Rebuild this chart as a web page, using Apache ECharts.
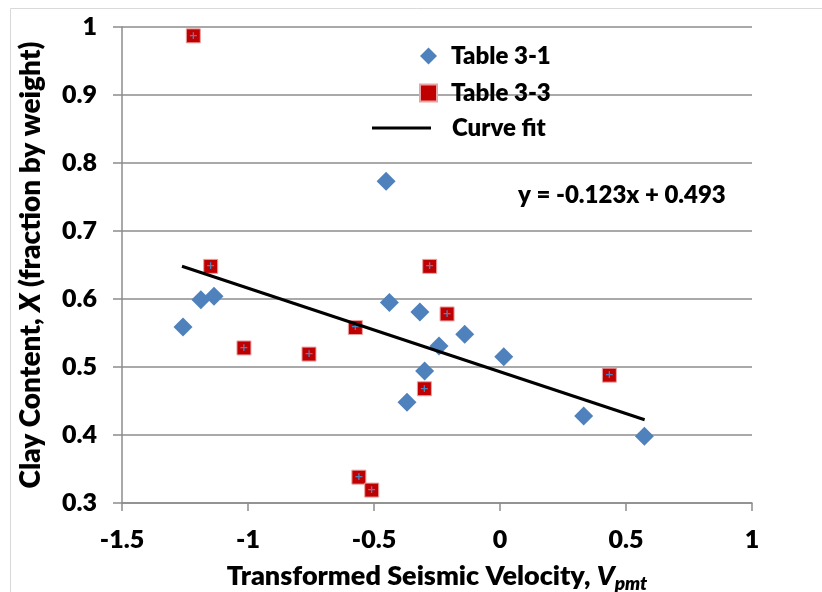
<!DOCTYPE html>
<html>
<head>
<meta charset="utf-8">
<script src="https://cdn.jsdelivr.net/npm/echarts@6/dist/echarts.min.js"></script>
<style>
  html, body { margin: 0; padding: 0; background: #ffffff; }
  #chart { width: 822px; height: 592px; }
</style>
</head>
<body>
<div id="chart"></div>
<script>
// Table 3-1 samples: transformed seismic velocity vs clay content
const table31Velocity = [-1.258, -1.187, -1.135, -0.452, -0.439, -0.318, -0.242, -0.140, 0.015, -0.299, -0.369, 0.332, 0.573];
const table31Clay     = [0.559, 0.599, 0.604, 0.773, 0.595, 0.581, 0.531, 0.548, 0.515, 0.494, 0.448, 0.428, 0.398];

// Table 3-3 samples
const table33Velocity = [-1.217, -1.148, -0.279, -0.210, -0.574, -1.016, -0.758, -0.300, 0.434, -0.560, -0.509];
const table33Clay     = [0.987, 0.648, 0.648, 0.578, 0.558, 0.528, 0.519, 0.468, 0.488, 0.338, 0.319];

// Linear fit y = slope * x + intercept, drawn across the sampled velocity range
const fitSlope = -0.123;
const fitIntercept = 0.493;
const fitVelocityRange = [-1.262, 0.574];

const FONT = 'Lato';
const WEIGHT = 800;
const GRID_COLOR = '#8C8C8C';

const pairs = (xs, ys) => xs.map((x, i) => [x, ys[i]]);
const fitLine = fitVelocityRange.map(x => [x, fitSlope * x + fitIntercept]);
const fmt = v => (v < 0 ? '-' : '') + Math.abs(v).toFixed(3);
const equationText = 'y = ' + fmt(fitSlope) + 'x + ' + fitIntercept.toFixed(3);

const chart = echarts.init(document.getElementById('chart'));

chart.setOption({
  animation: false,
  backgroundColor: '#ffffff',
  textStyle: { fontFamily: FONT, fontWeight: WEIGHT, color: '#000' },
  grid: { left: 122, right: 70, top: 27, bottom: 89, outerBoundsMode: 'none', containLabel: false },
  xAxis: {
    type: 'value',
    min: -1.5, max: 1, interval: 0.5,
    axisLine: { show: true, onZero: false, lineStyle: { color: GRID_COLOR, width: 1.5 } },
    axisTick: { show: true, length: 8, lineStyle: { color: GRID_COLOR, width: 1.5 } },
    splitLine: { show: false },
    axisLabel: { color: '#000', fontSize: 25, fontWeight: WEIGHT, fontFamily: FONT, margin: 24 },
    name: 'Transformed Seismic Velocity, {v|V}{sub|pmt}',
    nameLocation: 'middle',
    nameGap: 56,
    nameTextStyle: {
      fontSize: 27, fontWeight: WEIGHT, fontFamily: FONT, color: '#000',
      rich: {
        v: { fontSize: 27, fontWeight: WEIGHT, fontStyle: 'italic', fontFamily: FONT, color: '#000' },
        sub: { fontSize: 19, fontWeight: WEIGHT, fontStyle: 'italic', fontFamily: FONT, color: '#000', padding: [15, 0, 0, 0] }
      }
    }
  },
  yAxis: {
    type: 'value',
    min: 0.3, max: 1, interval: 0.1,
    axisLine: { show: true, onZero: false, lineStyle: { color: GRID_COLOR, width: 1.5 } },
    axisTick: { show: true, length: 9, lineStyle: { color: GRID_COLOR, width: 1.5 } },
    splitLine: { show: true, lineStyle: { color: GRID_COLOR, width: 1.5 } },
    axisLabel: {
      color: '#000', fontSize: 25, fontWeight: WEIGHT, fontFamily: FONT, margin: 25,
      formatter: v => String(Math.round(v * 10) / 10)
    },
    name: 'Clay Content, {x|X} (fraction by weight)',
    nameLocation: 'middle',
    nameGap: 77,
    nameTextStyle: {
      fontSize: 28, fontWeight: WEIGHT, fontFamily: FONT, color: '#000',
      rich: {
        x: { fontSize: 28, fontWeight: WEIGHT, fontStyle: 'italic', fontFamily: FONT, color: '#000' }
      }
    }
  },
  legend: [
    {
      data: ['Table 3-1', 'Table 3-3'],
      orient: 'vertical',
      left: 414, top: 36,
      itemWidth: 17, itemHeight: 17, itemGap: 7,
      selectedMode: false,
      textStyle: { fontSize: 24, fontWeight: WEIGHT, fontFamily: FONT, color: '#000', lineHeight: 30, padding: [0, 0, 0, 9] }
    },
    {
      data: [{ name: 'Curve fit', icon: 'rect' }],
      orient: 'vertical',
      left: 367, top: 108,
      itemWidth: 59, itemHeight: 3,
      selectedMode: false,
      textStyle: { fontSize: 24, fontWeight: WEIGHT, fontFamily: FONT, color: '#000', lineHeight: 30, padding: [0, 0, 0, 16] }
    }
  ],
  graphic: [
    {
      type: 'rect', silent: true, z: -1,
      shape: { x: 10.5, y: 8.5, width: 900, height: 700 },
      style: { fill: 'none', stroke: '#D9D9D9', lineWidth: 1 }
    },
    {
      type: 'text', silent: true,
      x: 518, y: 195,
      style: {
        text: equationText,
        font: WEIGHT + ' 24px ' + FONT,
        fill: '#000',
        verticalAlign: 'middle'
      }
    }
  ],
  series: [
    {
      name: 'Table 3-1',
      type: 'scatter',
      symbol: 'diamond',
      symbolSize: 19,
      itemStyle: { color: '#4F81BD', opacity: 1 },
      data: pairs(table31Velocity, table31Clay),
      z: 3
    },
    {
      name: 'Table 3-3',
      type: 'scatter',
      symbol: 'rect',
      symbolSize: 14,
      itemStyle: { color: '#C00000', borderColor: '#E9A3A3', borderWidth: 1, opacity: 1 },
      label: {
        show: true, position: 'inside', formatter: '+',
        color: '#4F81BD', fontSize: 11, fontWeight: 'bold', fontFamily: 'DejaVu Sans'
      },
      data: pairs(table33Velocity, table33Clay),
      z: 3
    },
    {
      name: 'Curve fit',
      type: 'line',
      symbol: 'none',
      silent: true,
      lineStyle: { color: '#000000', width: 3 },
      itemStyle: { color: '#000000' },
      data: fitLine,
      z: 4
    }
  ]
});
</script>
</body>
</html>
